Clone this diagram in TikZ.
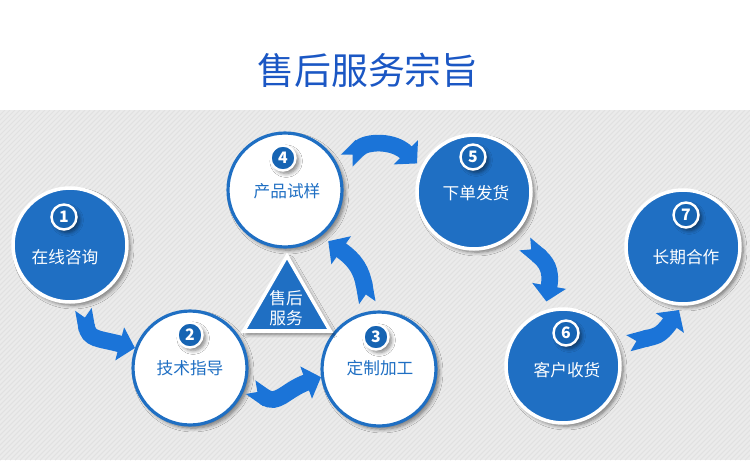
\documentclass[tikz,border=0pt]{standalone}
\usepackage{fontspec}
\setmainfont{Noto Sans CJK SC}
\usetikzlibrary{arrows.meta,shapes.geometric,shadows.blur}

\definecolor{TitleBlue}{HTML}{1B57C4}
\definecolor{StepBlue}{HTML}{1F6FC3}
\definecolor{BadgeBlue}{HTML}{1664B3}
\definecolor{FlowBlue}{HTML}{1B74D8}
\definecolor{BgGray}{HTML}{EBEBEB}
\definecolor{BgStripe}{HTML}{E1E1E1}

\tikzset{
  stepshadow/.style={blur shadow={shadow xshift=1.8pt, shadow yshift=-1.8pt, shadow blur steps=6, shadow opacity=50}},
  bluecirc/.style={circle, minimum size=2.28cm, inner sep=0pt, fill=StepBlue, draw=white, line width=2pt, stepshadow},
  whitecirc/.style={circle, minimum size=2.28cm, inner sep=0pt, fill=white, draw=StepBlue, line width=1.8pt, stepshadow},
  badge/.style={circle, minimum size=0.5cm, inner sep=0pt, fill=BadgeBlue, draw=white, line width=1.4pt, text=white, font=\fontsize{9}{9}\selectfont\bfseries, stepshadow},
  whitetxt/.style={text=white, font=\fontsize{9.5}{11.3}\selectfont},
  bluetxt/.style={text=StepBlue, font=\fontsize{9.5}{11.3}\selectfont},
  svctri/.style={regular polygon, regular polygon sides=3, minimum size=2cm, inner sep=0pt, fill=StepBlue, draw=white, line width=2pt, stepshadow},
  flow/.style={draw=FlowBlue, line width=9.5pt, {Triangle Cap[reversed]}-{Triangle[width=19pt,length=9pt]}},
}

\begin{document}
\begin{tikzpicture}[x=0.02cm, y=-0.02cm]

  %%%%%%%%%% Fond %%%%%%%%%%
  \useasboundingbox (0,0) rectangle (750,460);
  \fill [white] (0,0) rectangle (750,110);
  \fill [BgGray] (0,110) rectangle (750,460);
  \begin{scope}
    \clip (0,110) rectangle (750,460);
    \foreach \i in {-360,-355,...,750}
      \draw [BgStripe, line width=0.6pt] (\i,460) -- ++(350,-350);
  \end{scope}

  % Titre
  \node [text=TitleBlue, font=\fontsize{21}{25}\selectfont] (ttl) at (368,70) {售后服务宗旨};

  %%%%%%%%%% Etapes %%%%%%%%%%
  \node [bluecirc] (c1) at (70,245) {};
  \node [whitecirc] (c2) at (190,368) {};
  \node [whitecirc] (c3) at (379,369) {};
  \node [whitecirc] (c4) at (285,190) {};
  \node [bluecirc] (c5) at (474,192) {};
  \node [bluecirc] (c6) at (563,366) {};
  \node [bluecirc] (c7) at (683,247) {};

  \node [badge] (n1) at (64,217) {1};
  \node [badge] (n2) at (190,335) {2};
  \node [badge] (n3) at (376,337) {3};
  \node [badge] (n4) at (283,158) {4};
  \node [badge] (n5) at (473,157) {5};
  \node [badge] (n6) at (566,333) {6};
  \node [badge] (n7) at (686,215) {7};

  \node [whitetxt] (t1) at (65,257) {在线咨询};
  \node [bluetxt] (t2) at (190,368) {技术指导};
  \node [bluetxt] (t3) at (380,368) {定制加工};
  \node [bluetxt] (t4) at (287,191) {产品试样};
  \node [whitetxt] (t5) at (476,193) {下单发货};
  \node [whitetxt] (t6) at (567,370) {客户收货};
  \node [whitetxt] (t7) at (686,257) {长期合作};

  % Triangle central
  \node [svctri] (svc) at (287,306) {};
  \node [whitetxt, align=center] (svctxt) at (286,308) {售后\\服务};

  %%%%%%%%%% Fleches %%%%%%%%%%
  \draw [flow, shorten <=4pt] (c1.-78) to[out=-80, in=165, looseness=1.4] (c2.160);
  \draw [flow, shorten <=3pt] (c2.-16) to[out=-35, in=200, looseness=1.3] (c3.188);
  \draw [flow, shorten <=5pt, shorten >=5pt] (c3.100) to[out=100, in=-35, looseness=1.2] (c4.-52);
  \draw [flow, shorten <=6pt, shorten >=3pt] (c4.22) to[out=45, in=135, looseness=1.2] (c5.155);
  \draw [flow, shorten <=8pt, shorten >=5pt] (c5.-47) to[out=-40, in=80, looseness=1.3] (c6.108);
  \draw [flow, shorten <=6pt, shorten >=3pt] (c6.20) to[out=15, in=-125, looseness=1.3] (c7.-91);

\end{tikzpicture}
\end{document}
